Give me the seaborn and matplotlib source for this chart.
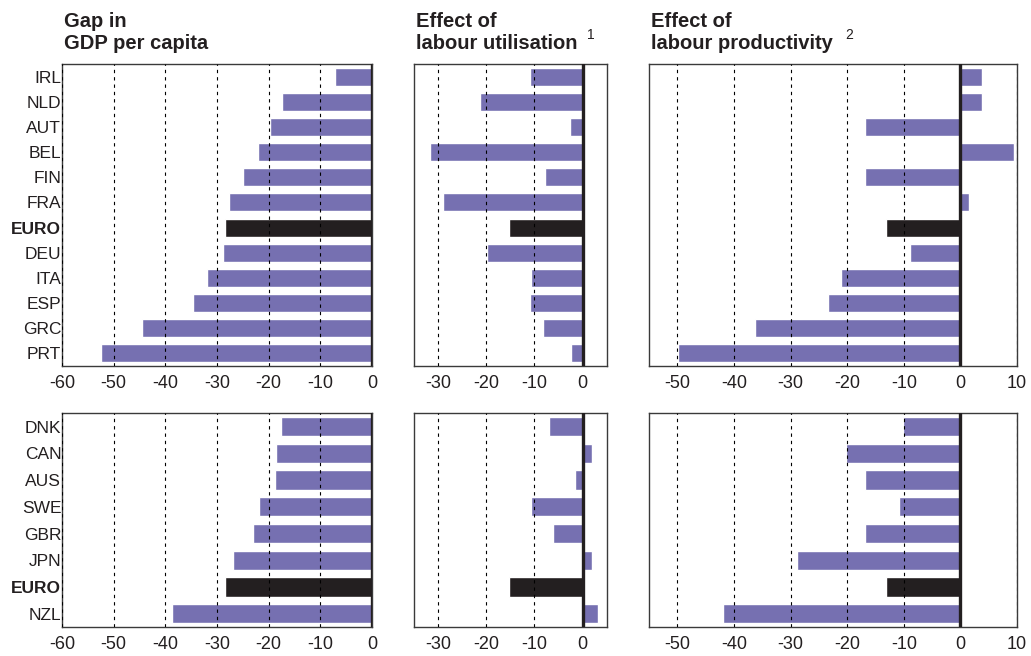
import matplotlib
matplotlib.use("Agg")
import matplotlib.pyplot as plt
import pandas as pd
import seaborn as sns

# Euro-area countries (upper row)
euro_countries = ["IRL", "NLD", "AUT", "BEL", "FIN", "FRA", "EURO", "DEU", "ITA", "ESP", "GRC", "PRT"]
euro_gap = [-7.2, -17.4, -19.7, -22.0, -24.9, -27.7, -28.5, -28.8, -31.9, -34.7, -44.5, -52.5]
euro_util = [-11.0, -21.2, -2.6, -31.6, -7.8, -29.0, -15.3, -19.9, -10.6, -11.0, -8.3, -2.4]
euro_prod = [3.9, 3.8, -16.8, 9.5, -16.9, 1.5, -13.2, -8.9, -21.0, -23.4, -36.2, -49.9]

# Other OECD countries (lower row)
other_countries = ["DNK", "CAN", "AUS", "SWE", "GBR", "JPN", "EURO", "NZL"]
other_gap = [-17.6, -18.5, -18.7, -21.8, -23.1, -26.9, -28.5, -38.8]
other_util = [-7.0, 1.9, -1.5, -10.6, -6.1, 2.0, -15.3, 3.3]
other_prod = [-10.2, -20.2, -16.9, -10.9, -16.8, -28.8, -13.2, -42.0]

titles = ["Gap in\nGDP per capita", "Effect of\nlabour utilisation", "Effect of\nlabour productivity"]
notes = ["", "1", "2"]
xlims = [(-60, 0), (-35, 5), (-55, 10)]
xticks = [list(range(-60, 1, 10)), list(range(-30, 1, 10)), list(range(-50, 11, 10))]

BAR = "#7670B1"
EURO = "#231F20"
INK = "#231F20"

sns.set_theme(style="white")
plt.rcParams["font.family"] = ["Liberation Sans", "DejaVu Sans"]
plt.rcParams["axes.unicode_minus"] = False

W, H = 1031, 656
fig = plt.figure(figsize=(W / 100, H / 100), dpi=100)

# column extents (pixels): left, right
cols = [(62, 372), (413.7, 606.7), (649, 1017)]
# row extents (pixels): top, bottom
rows = [(64, 366), (413.3, 627)]

row_data = [
    (euro_countries, [euro_gap, euro_util, euro_prod]),
    (other_countries, [other_gap, other_util, other_prod]),
]

for r, (countries, series) in enumerate(row_data):
    top, bot = rows[r]
    for c, values in enumerate(series):
        left, right = cols[c]
        ax = fig.add_axes([left / W, 1 - bot / H, (right - left) / W, (bot - top) / H])
        df = pd.DataFrame({"country": countries, "value": values})
        pal = {k: (EURO if k == "EURO" else BAR) for k in countries}
        sns.barplot(data=df, x="value", y="country", hue="country", palette=pal,
                    order=countries, orient="h", width=0.72, legend=False,
                    saturation=1, ax=ax, zorder=2)
        ax.set_xlim(*xlims[c])
        ax.set_xticks(xticks[c])
        ax.set_xlabel("")
        ax.set_ylabel("")
        ax.set_axisbelow(False)
        ax.xaxis.grid(True, linestyle=(0, (3.0, 3.6)), color="black", lw=0.8, zorder=3)
        ax.yaxis.grid(False)
        ax.axvline(0, color=INK, lw=2.4, zorder=5)
        for s in ax.spines.values():
            s.set_color("#3a3a3a")
            s.set_linewidth(1.0)
        ax.tick_params(axis="x", length=0, pad=6.5, labelsize=13, labelcolor=INK)
        ax.tick_params(axis="y", length=0, pad=0.5, labelsize=12.5, labelcolor=INK)
        if c == 0:
            for lab in ax.get_yticklabels():
                if lab.get_text() == "EURO":
                    lab.set_fontweight("bold")
        else:
            ax.set_yticklabels([])
        if r == 0:
            fig.text((left + 2) / W, 1 - 49.3 / H, titles[c], ha="left", va="baseline",
                     fontsize=14.5, fontweight="bold", color=INK, linespacing=1.25)

# footnote markers beside the titles
fig.text(586.5 / W, 1 - 39 / H, notes[1], ha="left", va="baseline", fontsize=10, color=INK)
fig.text(845 / W, 1 - 39 / H, notes[2], ha="left", va="baseline", fontsize=10, color=INK)

fig.savefig("out.png", dpi=100)
